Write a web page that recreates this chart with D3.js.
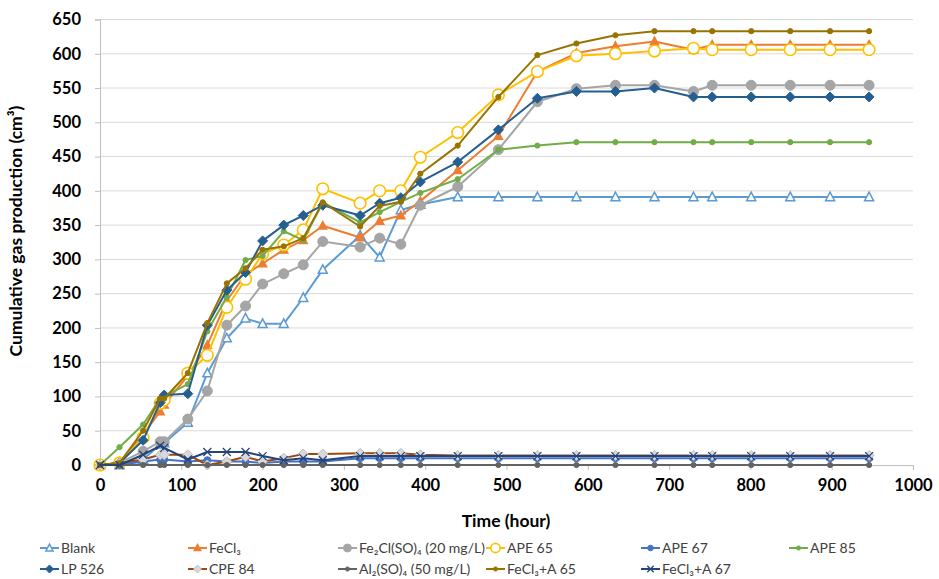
<!DOCTYPE html>
<html><head><meta charset="utf-8">
<script src="https://cdn.jsdelivr.net/npm/d3@7/dist/d3.min.js"></script>
<style>body{margin:0;background:#fff}svg{display:block}text{font-family:Lato,"Open Sans",sans-serif}</style>
</head><body><svg id="c" width="939" height="579"></svg>
<script>
const times = [0,24,53,74,79,108,132,156,179,200,226,250,274,320,344,370,394,440,490,538,586,634,682,730,753,801,849,898,946];
const blank   = [0,0,8,30,32,62,134,185,214,206,206,244,285,335,303,372,380,391,391,391,391,391,391,391,391,391,391,391,391];
const fecl3   = [0,3,45,78,88,130,175,240,278,294,314,328,349,332,356,364,385,430,480,574,601,611,618,606,613,613,613,613,613];
const fe2cl   = [0,3,20,34,34,67,108,204,232,264,279,292,326,318,331,322,379,406,460,530,549,554,554,545,554,554,554,554,554];
const ape65   = [0,3,40,90,95,134,160,230,271,308,321,343,403,382,400,400,449,485,540,574,597,600,604,608,606,606,606,606,606];
const ape67   = [0,0,5,8,8,5,7,5,5,3,5,5,5,10,10,10,10,10,10,10,10,10,10,10,10,10,10,10,10];
const ape85   = [0,26,59,97,100,118,195,245,299,305,341,328,383,354,369,384,397,417,460,466,471,471,471,471,471,471,471,471,471];
const lp526   = [0,3,36,91,102,104,204,255,281,327,350,364,379,364,382,390,413,442,489,535,545,545,550,537,537,537,537,537,537];
const cpe84   = [0,3,8,15,15,15,0,5,12,5,10,16,16,17,17,17,15,14,14,14,14,14,14,14,14,14,14,14,14];
const al2     = [0,0,0,0,0,0,0,0,0,0,0,0,0,0,0,0,0,0,0,0,0,0,0,0,0,0,0,0,0];
const fecl3a65= [0,3,50,97,97,134,207,265,287,314,319,331,383,348,378,384,425,466,537,598,615,627,633,633,633,633,633,633,633];
const fecl3a67= [0,0,15,28,25,8,19,19,19,13,7,10,7,13,13,13,13,13,13,13,13,13,13,13,13,13,13,13,13];
const seriesNames = ["Blank","FeCl₃","Fe₂Cl(SO)₄ (20 mg/L)","APE 65","APE 67","APE 85","LP 526","CPE 84","Al₂(SO)₄ (50 mg/L)","FeCl₃+A 65","FeCl₃+A 67"];
const xTicks = [0,100,200,300,400,500,600,700,800,900,1000];
const yTicks = [0,50,100,150,200,250,300,350,400,450,500,550,600,650];

const styles = [
 {c:"#5B9BD5", m:"tri", fill:"#fff", s:9},
 {c:"#ED7D31", m:"tri", fill:"#ED7D31", s:8},
 {c:"#A5A5A5", m:"circle", fill:"#A5A5A5", s:5},
 {c:"#FFC000", m:"circle", fill:"#fff", s:5.8},
 {c:"#4472C4", m:"circle", fill:"#4472C4", s:3.5},
 {c:"#70AD47", m:"circle", fill:"#70AD47", s:2.6},
 {c:"#255E91", m:"diamond", fill:"#255E91", s:5},
 {c:"#9E480E", m:"diamond", fill:"#D9D9D9", s:5, mc:"#BFBFBF"},
 {c:"#636363", m:"circle", fill:"#636363", s:2.6},
 {c:"#997300", m:"circle", fill:"#997300", s:2.6},
 {c:"#264478", m:"x", fill:"none", s:4}
];
const data = [blank,fecl3,fe2cl,ape65,ape67,ape85,lp526,cpe84,al2,fecl3a65,fecl3a67];

const svg = d3.select("#c");
const x = d3.scaleLinear().domain([0,1000]).range([100,913]);
const y = d3.scaleLinear().domain([0,650]).range([465,19.5]);

svg.append("g").selectAll("line").data(yTicks.filter(d=>d>0)).join("line")
  .attr("x1",100).attr("x2",913).attr("y1",d=>y(d)).attr("y2",d=>y(d))
  .attr("stroke","#D9D9D9").attr("stroke-width",1);

const xa = svg.append("g").attr("transform","translate(0,465)")
  .call(d3.axisBottom(x).tickValues(xTicks).tickFormat(d3.format("d")).tickSize(5).tickPadding(9));
xa.select(".domain").attr("stroke","#BFBFBF");
xa.selectAll(".tick line").attr("stroke","#BFBFBF");
xa.selectAll("text").attr("font-size",16.5).attr("font-weight","bold").attr("fill","#000");
const ya = svg.append("g").attr("transform","translate(100,0)")
  .call(d3.axisLeft(y).tickValues(yTicks).tickSize(5).tickPadding(14));
ya.select(".domain").attr("stroke","#BFBFBF");
ya.selectAll(".tick line").attr("stroke","#BFBFBF");
ya.selectAll("text").attr("font-size",16.5).attr("font-weight","bold").attr("fill","#000");

svg.append("text").attr("x",506).attr("y",527).attr("text-anchor","middle")
  .attr("font-size",17.5).attr("font-weight","bold").text("Time (hour)");
svg.append("text").attr("transform","translate(22,231) rotate(-90)").attr("text-anchor","middle")
  .attr("font-size",17.5).attr("font-weight","bold").text("Cumulative gas production (cm³)");

function marker(g, st, cx, cy, scale){
  const s = st.s*(scale||1);
  const mc = st.mc || st.c;
  if(st.m==="circle"){
    g.append("circle").attr("cx",cx).attr("cy",cy).attr("r",s).attr("fill",st.fill).attr("stroke",mc).attr("stroke-width",st.fill==="#fff"?1.6:1);
  } else if(st.m==="tri"){
    const h=s*0.9;
    g.append("path").attr("d",`M${cx},${cy-h*0.6}L${cx+s/2},${cy+h*0.45}L${cx-s/2},${cy+h*0.45}Z`)
      .attr("fill",st.fill).attr("stroke",mc).attr("stroke-width",1.5);
  } else if(st.m==="diamond"){
    g.append("path").attr("d",`M${cx},${cy-s}L${cx+s},${cy}L${cx},${cy+s}L${cx-s},${cy}Z`)
      .attr("fill",st.fill).attr("stroke",mc).attr("stroke-width",1);
  } else if(st.m==="x"){
    g.append("path").attr("d",`M${cx-s},${cy-s}L${cx+s},${cy+s}M${cx-s},${cy+s}L${cx+s},${cy-s}`)
      .attr("stroke",mc).attr("stroke-width",1.3);
  }
}

const line = d3.line().x((d,i)=>x(times[i])).y(d=>y(d));
data.forEach((vals,k)=>{
  const st = styles[k];
  const g = svg.append("g");
  g.append("path").datum(vals).attr("d",line).attr("fill","none").attr("stroke",st.c).attr("stroke-width",2).attr("stroke-linejoin","round");
  vals.forEach((v,i)=>marker(g, st, x(times[i]), y(v)));
});

const colX = [40,188,338,486,641,789];
const rowY = [548,569];
const lg = svg.append("g");
seriesNames.forEach((n,k)=>{
  const r = k<6?0:1, c = k<6?k:k-6;
  const lx = colX[c], ly = rowY[r];
  const st = styles[k];
  lg.append("line").attr("x1",lx).attr("x2",lx+19).attr("y1",ly).attr("y2",ly).attr("stroke",st.c).attr("stroke-width",2);
  marker(lg, st, lx+9.5, ly, 0.8);
  lg.append("text").attr("x",lx+21).attr("y",ly+5).attr("font-size",14).attr("fill","#404040").text(n);
});
</script></body></html>
